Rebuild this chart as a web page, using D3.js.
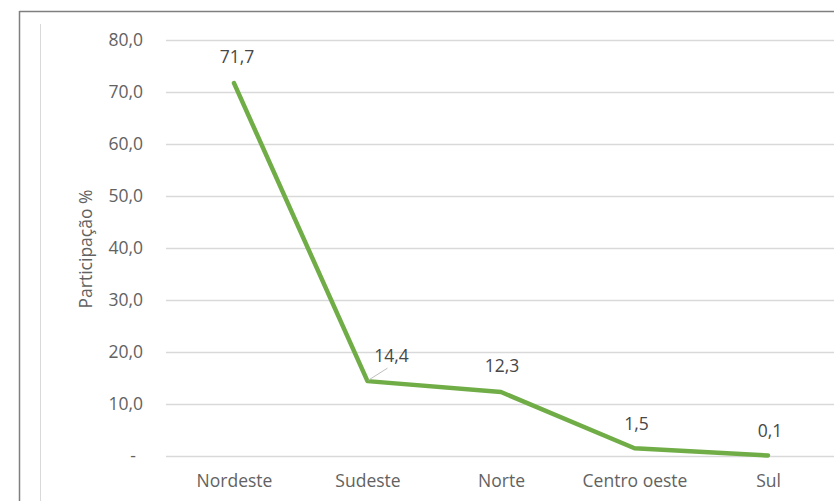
<!DOCTYPE html>
<html><head><meta charset="utf-8">
<script src="https://cdn.jsdelivr.net/npm/d3@7"></script>
<style>body{margin:0;background:#fff}svg{display:block}</style>
</head><body>
<svg id="c" width="834" height="501"></svg>
<script>
const categories = ["Nordeste","Sudeste","Norte","Centro oeste","Sul"];
const values = [71.7, 14.4, 12.3, 1.5, 0.1];
const yTicks = [0,10,20,30,40,50,60,70,80];
const yTitle = "Participação %";

const svg = d3.select("#c");
const font = "'Open Sans', 'Liberation Sans', sans-serif";
const fs = 17.5;
const txt = "#626262";

// frame
svg.append("line").attr("x1",19.5).attr("x2",834).attr("y1",11.5).attr("y2",11.5).attr("stroke","#7f7f7f").attr("stroke-width",1.5);
svg.append("line").attr("x1",19.5).attr("x2",19.5).attr("y1",11).attr("y2",501).attr("stroke","#7f7f7f").attr("stroke-width",1.5);
svg.append("line").attr("x1",40.5).attr("x2",40.5).attr("y1",24).attr("y2",501).attr("stroke","#d9d9d9").attr("stroke-width",1);

const x = d3.scalePoint().domain(categories).range([234, 768]);
const y = d3.scaleLinear().domain([0,80]).range([456,40]);

const fmt = v => v === 0 ? "-" : d3.format(".1f")(v).replace(".", ",");

// gridlines
svg.append("g").selectAll("line").data(yTicks).join("line")
  .attr("x1",166).attr("x2",834)
  .attr("y1",d=>Math.round(y(d))+0.5).attr("y2",d=>Math.round(y(d))+0.5)
  .attr("stroke","#d9d9d9").attr("stroke-width",1.3);

const yAxis = svg.append("g").attr("transform","translate(143,0)")
  .call(d3.axisLeft(y).tickValues(yTicks).tickSize(0).tickPadding(0).tickFormat(fmt));
yAxis.select(".domain").remove();
yAxis.selectAll("text").attr("font-family",font).attr("font-size",fs).attr("fill",txt)
  .attr("dx", d => d===0 ? -7 : 0);

const xAxis = svg.append("g").attr("transform","translate(0,456)")
  .call(d3.axisBottom(x).tickSize(0));
xAxis.select(".domain").remove();
xAxis.selectAll("text").attr("font-family",font).attr("font-size",fs).attr("fill",txt)
  .attr("y",31).attr("dy",0);

svg.append("text").attr("transform","translate(92,249) rotate(-90)")
  .attr("text-anchor","middle").attr("font-family",font).attr("font-size",fs).attr("fill",txt)
  .text(yTitle);

const data = categories.map((c,i)=>({c, v: values[i]}));
svg.append("path").datum(data)
  .attr("fill","none").attr("stroke","#70ad47").attr("stroke-width",4.5)
  .attr("stroke-linejoin","round").attr("stroke-linecap","round")
  .attr("d", d3.line().x(d=>x(d.c)).y(d=>y(d.v)));

// data labels (offsets from point)
const labelOffsets = [[3,-20],[24,-19],[1,-20],[2,-18],[2,-18]];
// leader line for Sudeste
const s = data[1];
svg.append("line").attr("x1",x(s.c)+1).attr("y1",y(s.v)-1).attr("x2",x(s.c)+20).attr("y2",y(s.v)-13)
  .attr("stroke","#bfbfbf").attr("stroke-width",1);
svg.append("g").selectAll("text").data(data).join("text")
  .attr("x",(d,i)=>x(d.c)+labelOffsets[i][0])
  .attr("y",(d,i)=>y(d.v)+labelOffsets[i][1])
  .attr("text-anchor","middle").attr("font-family",font).attr("font-size",fs).attr("fill","#474747")
  .text(d=>fmt(d.v));
</script>
</body></html>
